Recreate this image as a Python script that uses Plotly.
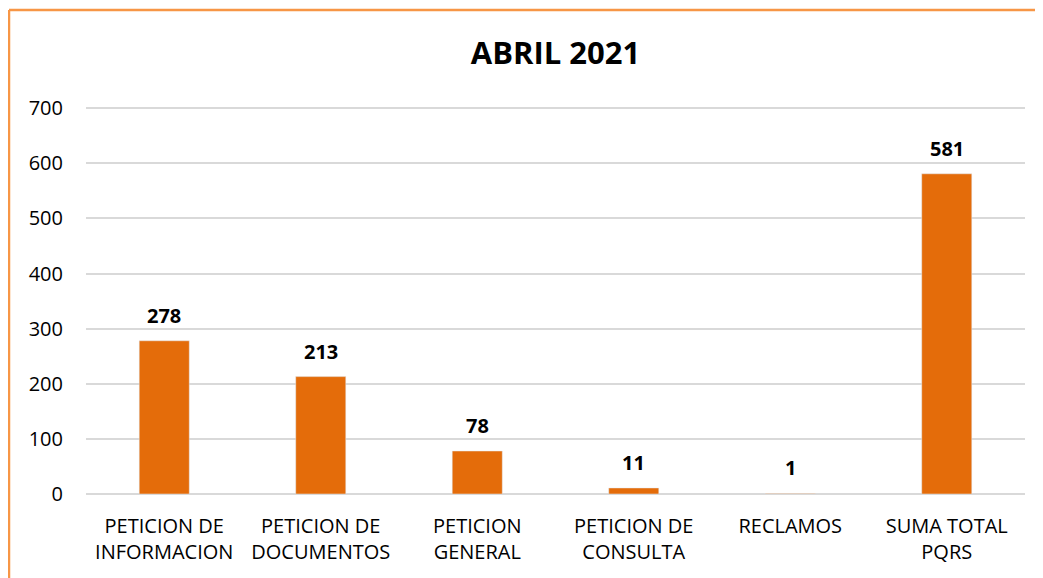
import plotly.graph_objects as go

categories = ["PETICION DE<br>INFORMACION", "PETICION DE<br>DOCUMENTOS", "PETICION<br>GENERAL",
              "PETICION DE<br>CONSULTA", "RECLAMOS", "SUMA TOTAL<br>PQRS"]
values = [278, 213, 78, 11, 1, 581]
tick_vals = [0, 100, 200, 300, 400, 500, 600, 700]

# the page body adds an 8px offset, so the figure is drawn in a 1035x570 box
W, H = 1035, 570
L, R, T, B = 78, 18, 98, 84
pw, ph = W - L - R, H - T - B

def px_x(x):
    return (x - L) / pw

def px_y(y):
    return (H - B - y) / ph

fig = go.Figure(go.Bar(
    x=categories, y=values, marker_color="#E46C0A", width=0.32,
))

for c, v in zip(categories, values):
    fig.add_annotation(x=c, y=v, text=str(v), showarrow=False, yanchor="bottom",
                       yshift=10,
                       font=dict(family="Open Sans", size=20, color="black", weight="bold"))

fig.update_layout(
    width=W, height=H, margin=dict(l=L, r=R, t=T, b=B),
    paper_bgcolor="white", plot_bgcolor="white",
    showlegend=False,
    title=dict(text="<b>ABRIL 2021</b>", x=0.5, xref="paper", xanchor="center",
               y=1 - 45 / H, yanchor="middle",
               font=dict(family="Open Sans", size=31, color="black")),
    font=dict(family="Open Sans", size=18, color="black"),
    bargap=0.68,
)
fig.update_yaxes(range=[0, 704], tickvals=tick_vals, showgrid=True, gridcolor="#D9D9D9",
                 gridwidth=2, zeroline=True, zerolinecolor="#D9D9D9", zerolinewidth=2,
                 showline=False, ticks="", ticklabelstandoff=22,
                 tickfont=dict(family="Open Sans", size=20, color="black"))
fig.update_xaxes(showline=False, ticks="", ticklabelstandoff=18,
                 tickfont=dict(family="Open Sans", size=20, color="black"))

# outer chart border (orange), clipped by the image on right and bottom
fig.add_shape(type="line", xref="paper", yref="paper", x0=px_x(1), x1=px_x(1060),
              y0=px_y(2), y1=px_y(2), line=dict(color="#F79646", width=2.5))
fig.add_shape(type="line", xref="paper", yref="paper", x0=px_x(1), x1=px_x(1),
              y0=px_y(2), y1=px_y(600), line=dict(color="#F79646", width=2.5))

fig.write_html("out.html")
